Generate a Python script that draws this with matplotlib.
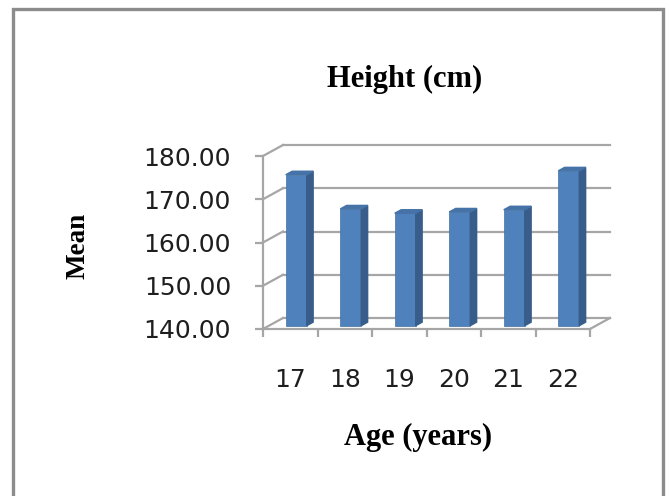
import matplotlib
matplotlib.use("Agg")
import matplotlib.pyplot as plt
from matplotlib.patches import Polygon, Rectangle

# data
ages = ["17", "18", "19", "20", "21", "22"]
mean_height = [174.9, 167.0, 166.0, 166.3, 166.8, 175.8]
y_ticks = [140, 150, 160, 170, 180]
y_labels = ["140.00", "150.00", "160.00", "170.00", "180.00"]

W, H = 669, 496
fig = plt.figure(figsize=(W / 100, H / 100), dpi=100)

# front plane of the 3d box, in pixels
x0, x1 = 263, 590
ytop, ybot = 156, 329
ax = fig.add_axes([x0 / W, 1 - ybot / H, (x1 - x0) / W, (ybot - ytop) / H])
n = len(ages)
ax.set_xlim(-0.5, n - 0.5)
ax.set_ylim(y_ticks[0], y_ticks[-1])
for s in ax.spines.values():
    s.set_visible(False)

# depth offset of the back wall (pixels -> data units)
px_x = n / (x1 - x0)
px_y = (y_ticks[-1] - y_ticks[0]) / (ybot - ytop)
dX, dY = 20 * px_x, 11 * px_y

grid_c = "#a6a6a6"
line_kw = dict(color=grid_c, lw=1.6, clip_on=False, zorder=1)
lo, hi = -0.5, n - 0.5

# back wall gridlines + side wall diagonals
for v in y_ticks:
    ax.plot([lo + dX, hi + dX], [v + dY, v + dY], **line_kw)
    ax.plot([lo, lo + dX], [v, v + dY], **line_kw)
# floor
ax.plot([hi, hi + dX], [y_ticks[0], y_ticks[0] + dY], **line_kw)
ax.plot([lo, hi], [y_ticks[0], y_ticks[0]], **line_kw)
# front value axis
ax.plot([lo, lo], [y_ticks[0], y_ticks[-1]], **line_kw)

# bars
d0, d1 = 0.3, 0.62  # bar depth range (fraction of box depth)
bw = 21 * px_x
front_c, side_c, top_c = "#4f81bd", "#385d8a", "#4572a7"
for i, v in enumerate(mean_height):
    cx = i + d0 * dX
    b = y_ticks[0] + d0 * dY
    t = v + d0 * dY
    ax.bar(cx, t - b, bottom=b, width=bw, color=front_c, zorder=3,
           edgecolor="#44709f", linewidth=0.5)
    ox, oy = (d1 - d0) * dX, (d1 - d0) * dY
    l, r = cx - bw / 2, cx + bw / 2
    ax.add_patch(Polygon([(r, b), (r + ox, b + oy), (r + ox, t + oy), (r, t)],
                         closed=True, color=side_c, zorder=3, clip_on=False))
    ax.add_patch(Polygon([(l, t), (r, t), (r + ox, t + oy), (l + ox, t + oy)],
                         closed=True, color=top_c, zorder=3, clip_on=False))

# ticks
ax.set_yticks(y_ticks)
ax.set_yticklabels(y_labels)
ax.set_xticks(range(n))
ax.set_xticklabels(ages)
ax.set_xticks([k - 0.5 for k in range(n + 1)], minor=True)
ax.tick_params(axis="y", which="major", length=6, width=1.6, color=grid_c,
               direction="out", pad=17, labelsize=18, labelcolor="#1e1e1e")
ax.tick_params(axis="x", which="major", length=0, pad=28,
               labelsize=18, labelcolor="#1e1e1e")
ax.tick_params(axis="x", which="minor", length=6, width=1.6, color=grid_c,
               direction="out")

serif = "Liberation Serif"
fig.text(405 / W, 1 - 87 / H, "Height (cm)", ha="center", va="baseline",
         fontsize=22, fontweight="bold", family=serif)
fig.text(418 / W, 1 - 445 / H, "Age (years)", ha="center", va="baseline",
         fontsize=22, fontweight="bold", family=serif)
fig.text(78 / W, 1 - 246 / H, "Mean", ha="center", va="center", rotation=90,
         fontsize=19.5, fontweight="bold", family=serif)

# outer frame
fig.patches.append(Rectangle((13 / W, -0.05), (663 - 13) / W, 1.05 - 9 / H,
                             transform=fig.transFigure, fill=False,
                             edgecolor="#8c8c8c", linewidth=2.4))

fig.savefig("out.png", dpi=100)
